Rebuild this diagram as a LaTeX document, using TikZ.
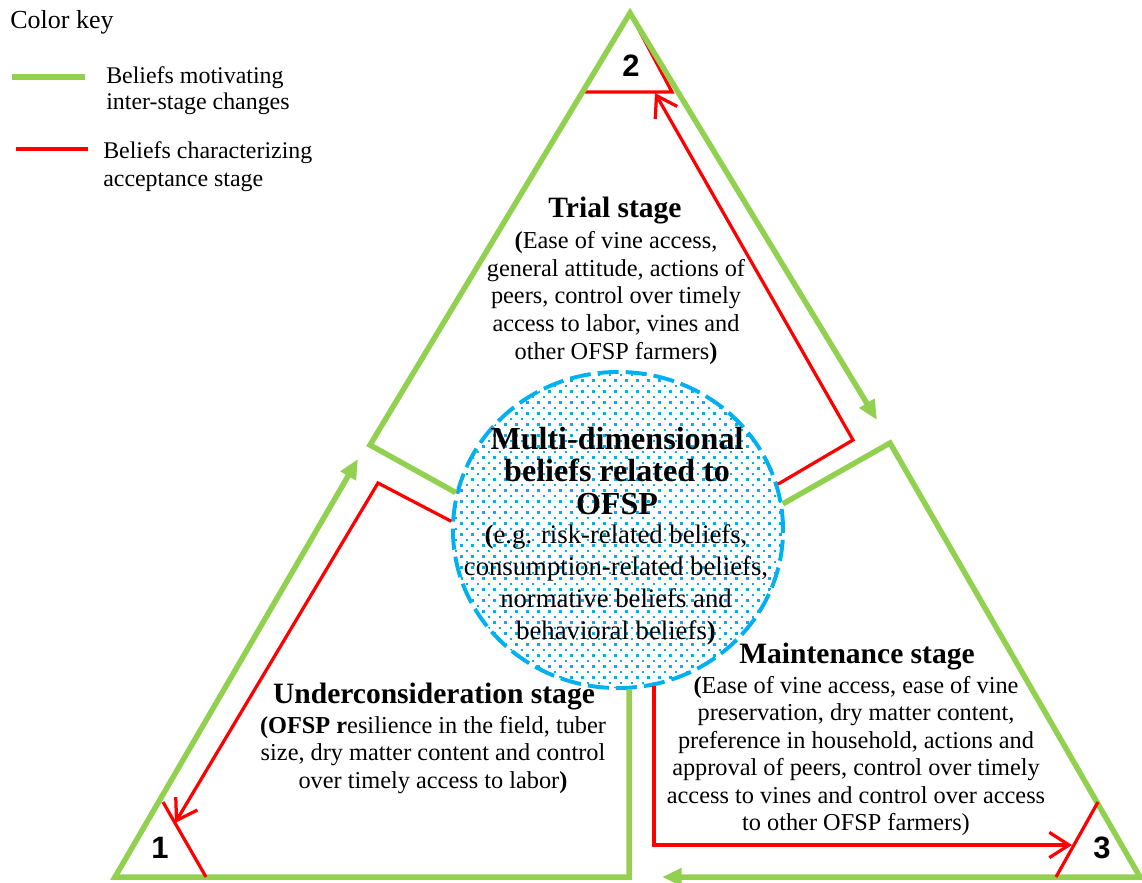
\documentclass[tikz,border=0pt]{standalone}
\usepackage{fontspec}
\setmainfont{Liberation Serif}
\newfontfamily\digitfont{Liberation Sans}
\usetikzlibrary{arrows.meta, shapes.geometric, calc}
\definecolor{keygreen}{RGB}{146,208,80}
\definecolor{keyred}{RGB}{255,0,0}
\definecolor{dotblue}{RGB}{0,176,240}
\tikzset{
  greenline/.style={draw=keygreen, line width=3.9pt, line join=miter},
  redline/.style={draw=keyred, line width=2.3pt},
  greenarrow/.style={greenline, -{Triangle[length=14pt,width=12pt]}},
  redarrow/.style={redline, -{Straight Barb[length=14pt,width=18pt]}},
  bodytext/.style={align=center, inner sep=0pt, font=\fontsize{17.3}{19.6}\selectfont},
  stagetitle/.style={inner sep=0pt, font=\bfseries\fontsize{21}{24}\selectfont},
  stagenum/.style={inner sep=0pt, font=\digitfont\bfseries\fontsize{22}{24}\selectfont},
}
\begin{document}
\begin{tikzpicture}[x=0.025cm, y=-0.025cm]
  \useasboundingbox (0,0) rectangle (1142,882);
  % corners of the three stages
  \coordinate (top) at (630,13);
  \coordinate (topL) at (370,445);
  \coordinate (topR) at (877,420);
  \coordinate (leftB) at (115,877);
  \coordinate (leftT) at (358,459);
  \coordinate (rightT) at (890,443);
  \coordinate (rightB) at (1140,877);
  \coordinate (rightEnd) at (662,877);
  \coordinate (redTopL) at (585,92);
  \coordinate (redTopR) at (672,92);
  \coordinate (redTopTip) at (655,93);
  \coordinate (redMid) at (853,440);
  \coordinate (redLeft) at (378,483);
  \coordinate (redLeftTip) at (175,823);
  \coordinate (redRightTip) at (1072,845);

  % centre of beliefs
  \node[ellipse, minimum width=8.25cm, minimum height=7.9cm, inner sep=0pt,
        draw=dotblue, line width=2.8pt, dash pattern=on 15pt off 5pt, fill=white,
        path picture={
          \foreach \j in {0,...,58}{
            \pgfmathsetmacro{\shift}{mod(\j,2)*5.5}
            \foreach \i in {0,...,30}{
              \fill[dotblue] ($(path picture bounding box.north west)+(\i*11+\shift+2,\j*5.5+2)$) rectangle +(2.2,2.2);
            }
          }
        }] (beliefs) at (618,530) {};
  \node[align=center, inner sep=0pt, font=\bfseries\fontsize{22.8}{22.8}\selectfont] (beliefsTitle) at (617,471) {Multi-dimensional\\beliefs related to\\OFSP};
  \node[align=center, inner sep=0pt, font=\fontsize{19}{22.8}\selectfont] (beliefsBody) at (616,585) {{\bfseries(}e.g. risk-related beliefs,\\consumption-related beliefs,\\normative beliefs and\\behavioral beliefs{\bfseries)}};

  % trial stage
  \draw[redline] (top) -- (redTopR) -- (redTopL);
  \draw[greenarrow] (beliefs.167.7) -- (topL) -- (top) -- (topR);
  \draw[redarrow] (beliefs.16.5) -- (redMid) -- (redTopTip);
  \node[stagenum] (two) at (631,66) {2};
  \node[stagetitle] (trialTitle) at (615,211) {Trial stage};
  \node[bodytext] (trialBody) at (616,298) {{\bfseries(}Ease of vine access,\\general attitude, actions of\\peers, control over timely\\access to labor, vines and\\other OFSP farmers{\bfseries)}};

  % underconsideration stage
  \draw[greenarrow] (beliefs.-86) |- (leftB) -- (leftT);
  \draw[redarrow] (beliefs.177.6) -- (redLeft) -- (redLeftTip);
  \draw[redline] (163,802) -- (206,877);
  \node[stagenum] (one) at (160,848) {1};
  \node[stagetitle] (underTitle) at (434,697) {Underconsideration stage};
  \node[bodytext] (underBody) at (433,755) {{\bfseries(OFSP r}esilience in the field, tuber\\size, dry matter content and control\\over timely access to labor{\bfseries)}};

  % maintenance stage
  \draw[greenarrow] (beliefs.9.3) -- (rightT) -- (rightB) -- (rightEnd);
  \draw[redarrow] (beliefs.-77.4) |- (redRightTip);
  \draw[redline] (1098,802) -- (1056,877);
  \node[stagenum] (three) at (1102,848) {3};
  \node[stagetitle] (mainTitle) at (857,657) {Maintenance stage};
  \node[bodytext] (mainBody) at (856,756) {{\bfseries(}Ease of vine access, ease of vine\\preservation, dry matter content,\\preference in household, actions and\\approval of peers, control over timely\\access to vines and control over access\\to other OFSP farmers)};

  % color key
  \node[anchor=west, inner sep=0pt, font=\fontsize{18.5}{20}\selectfont] (keyTitle) at (10,22) {Color key};
  \coordinate (gKeyA) at (12,77);
  \coordinate (gKeyB) at (85,77);
  \coordinate (rKeyA) at (16,149);
  \coordinate (rKeyB) at (88,149);
  \draw[greenline] (gKeyA) -- (gKeyB);
  \draw[redline] (rKeyA) -- (rKeyB);
  \node[anchor=west, align=left, inner sep=0pt, font=\fontsize{17}{18.5}\selectfont] (gKeyText) at (106,91) {Beliefs motivating\\inter-stage changes};
  \node[anchor=west, align=left, inner sep=0pt, font=\fontsize{17}{20}\selectfont] (rKeyText) at (103,167) {Beliefs characterizing\\acceptance stage};
\end{tikzpicture}
\end{document}
